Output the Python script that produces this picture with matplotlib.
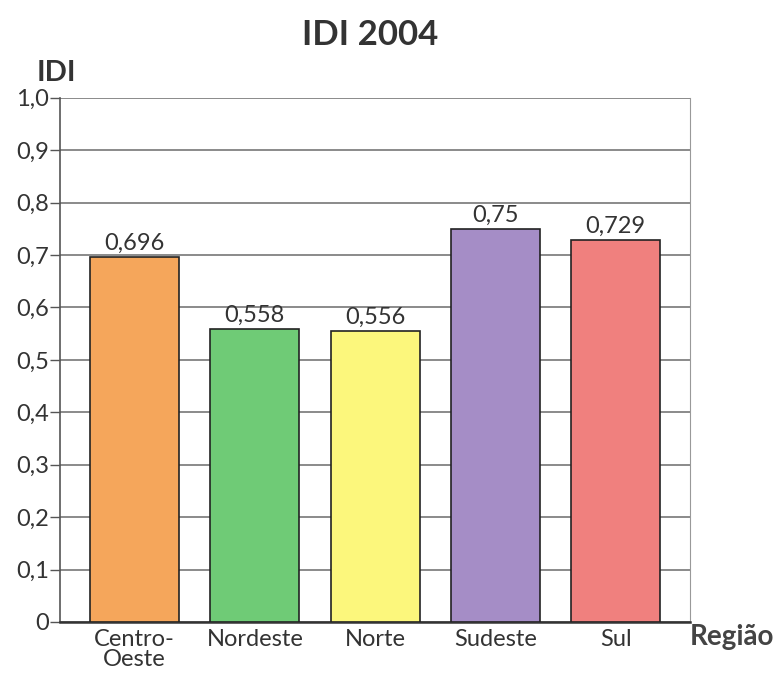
import matplotlib
matplotlib.use('Agg')
import matplotlib.pyplot as plt

regioes = ['Centro-\nOeste', 'Nordeste', 'Norte', 'Sudeste', 'Sul']
idi = [0.696, 0.558, 0.556, 0.75, 0.729]
rotulos = ['0,696', '0,558', '0,556', '0,75', '0,729']
cores = ['#F5A65B', '#6FCB76', '#FCF77C', '#A58DC6', '#F0807E']
yticks = [0, 0.1, 0.2, 0.3, 0.4, 0.5, 0.6, 0.7, 0.8, 0.9, 1.0]
ytick_labels = ['0', '0,1', '0,2', '0,3', '0,4', '0,5', '0,6', '0,7', '0,8', '0,9', '1,0']

plt.rcParams['font.family'] = ['Lato', 'DejaVu Sans']

fig = plt.figure(figsize=(7.79, 6.79), dpi=100)
ax = fig.add_axes([0.077, 0.084, 0.809, 0.772])

x = list(range(len(regioes)))
bars = ax.bar(x, idi, width=0.74, color=cores, edgecolor='#222222', linewidth=1.2, zorder=3)

for b, txt in zip(bars, rotulos):
  ax.text(b.get_x() + b.get_width() / 2, b.get_height() + 0.006, txt,
          ha='center', va='bottom', fontsize=17, color='#333333')

ax.set_xlim(-0.62, 4.62)
ax.set_ylim(0, 1.0)
ax.set_yticks(yticks)
ax.set_yticklabels(ytick_labels, fontsize=17, color='#333333')
ax.set_xticks(x)
ax.set_xticklabels(regioes, fontsize=17, color='#333333', linespacing=0.95)
ax.tick_params(axis='x', length=0, pad=5)
ax.tick_params(axis='y', length=7, width=1, color='#555555', pad=1)

ax.grid(axis='y', color='#777777', linewidth=1.2, zorder=0)
ax.spines['top'].set_visible(False)
ax.spines['right'].set_color('#999999')
ax.spines['left'].set_color('#555555')
ax.spines['bottom'].set_color('#333333')
ax.spines['bottom'].set_linewidth(1.8)
ax.spines['left'].set_linewidth(1.2)

fig.text(0.475, 0.948, 'IDI 2004', ha='center', va='center', fontsize=25,
         fontweight='bold', color='#333333')
fig.text(0.047, 0.893, 'IDI', ha='left', va='center', fontsize=21,
         fontweight='bold', color='#333333')
fig.text(0.886, 0.062, 'Região', ha='left', va='center', fontsize=20,
         fontweight='bold', color='#444444')

fig.savefig('out.png', dpi=100)
